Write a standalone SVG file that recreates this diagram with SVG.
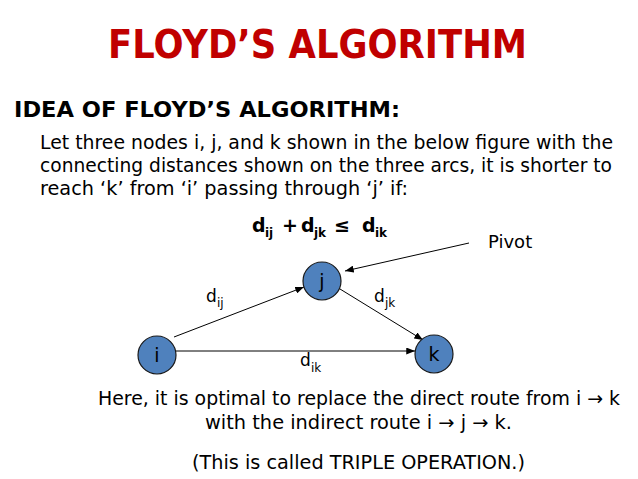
<svg xmlns="http://www.w3.org/2000/svg" width="638" height="479" viewBox="0 0 638 479">
<style>
.t{font-family:"DejaVu Sans","Liberation Sans",sans-serif;fill:#000}
.b{font-weight:bold}
.body{font-size:19px}
.lbl{font-size:17px}
.sub{font-size:12px}
.node circle{fill:#4F81BD;stroke:#1a1a1a;stroke-width:1.2}
.node text{font-family:"DejaVu Sans","Liberation Sans",sans-serif;font-size:19px;fill:#000;text-anchor:middle}
.edge{stroke:#000;stroke-width:1;fill:none;marker-end:url(#ah)}
</style>
<defs>
<marker id="ah" viewBox="0 0 10 8" refX="10" refY="4" markerWidth="9" markerHeight="7" markerUnits="userSpaceOnUse" orient="auto">
<path d="M0,0 L10,4 L0,8 Z" fill="#000"/>
</marker>
</defs>
<rect width="638" height="479" fill="#fff"/>
<text class="t b" x="108" y="58" font-size="39" style="fill:#C00000" textLength="419" lengthAdjust="spacingAndGlyphs">FLOYD’S ALGORITHM</text>
<text class="t b" x="14" y="117" font-size="21" textLength="386" lengthAdjust="spacingAndGlyphs">IDEA OF FLOYD’S ALGORITHM:</text>
<text class="t body" x="40" y="149" textLength="573" lengthAdjust="spacingAndGlyphs">Let three nodes i, j, and k shown in the below figure with the</text>
<text class="t body" x="40" y="172" textLength="572" lengthAdjust="spacingAndGlyphs">connecting distances shown on the three arcs, it is shorter to</text>
<text class="t body" x="40" y="195" textLength="368" lengthAdjust="spacingAndGlyphs">reach ‘k’ from ‘i’ passing through ‘j’ if:</text>
<g id="formula" class="t b" font-size="19">
<text x="252" y="232">d</text><text x="265" y="237" font-size="12">ij</text>
<text x="290" y="232" text-anchor="middle">+</text>
<text x="301" y="232">d</text><text x="314" y="237" font-size="12">jk</text>
<text x="342" y="232" text-anchor="middle">≤</text>
<text x="362" y="232">d</text><text x="375" y="237" font-size="12">ik</text>
</g>
<g id="connectors">
<line class="edge" x1="174" y1="337" x2="304" y2="287"/>
<line class="edge" x1="340" y1="289" x2="423" y2="340"/>
<line class="edge" x1="176" y1="351" x2="415" y2="351"/>
<line class="edge" x1="469" y1="243" x2="345" y2="271"/>
<g class="t lbl">
<text x="206" y="302">d</text><text class="sub" x="217" y="307">ij</text>
<text x="374" y="302">d</text><text class="sub" x="385" y="307">jk</text>
<text x="300" y="366">d</text><text class="sub" x="311" y="372">ik</text>
</g>
</g>
<g id="pivot"><text class="t" x="488" y="248" font-size="18">Pivot</text></g>
<g id="node-i" class="node"><circle cx="157" cy="355" r="19"/><text x="157" y="362">i</text></g>
<g id="node-j" class="node"><circle cx="322" cy="281" r="19"/><text x="322" y="288">j</text></g>
<g id="node-k" class="node"><circle cx="434" cy="354" r="19"/><text x="434" y="361">k</text></g>
<text class="t body" x="98" y="405" textLength="522" lengthAdjust="spacingAndGlyphs">Here, it is optimal to replace the direct route from i → k</text>
<text class="t body" x="205" y="429" textLength="307" lengthAdjust="spacingAndGlyphs">with the indirect route i → j → k.</text>
<text class="t body" x="192" y="469" textLength="333" lengthAdjust="spacingAndGlyphs">(This is called TRIPLE OPERATION.)</text>
</svg>
